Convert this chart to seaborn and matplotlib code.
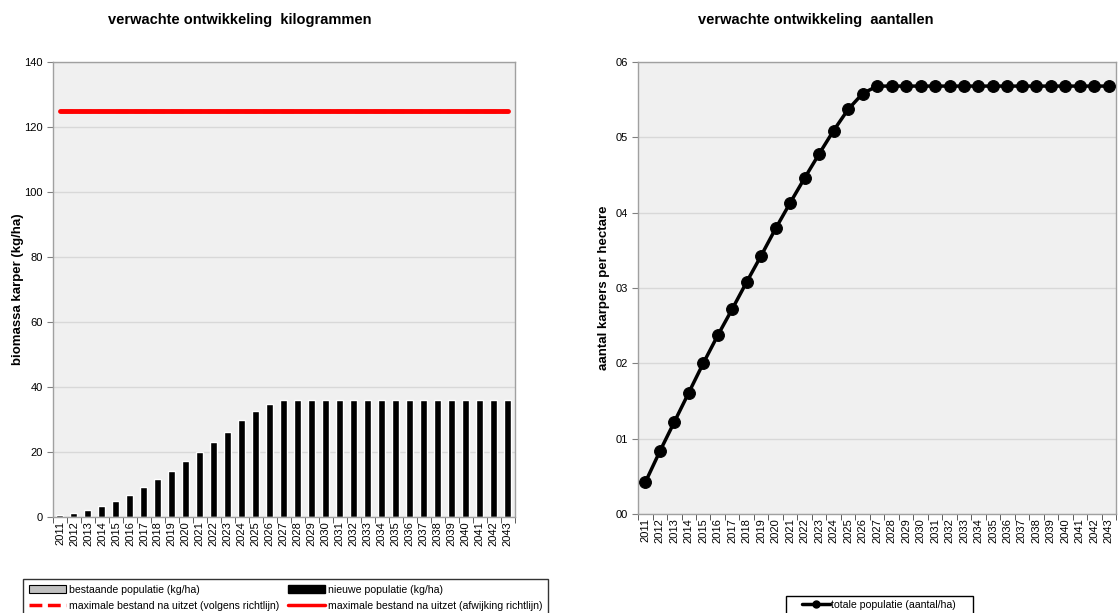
import numpy as np
import pandas as pd
import matplotlib
matplotlib.use("Agg")
import matplotlib.pyplot as plt
from matplotlib.patches import Patch, Rectangle
from matplotlib.lines import Line2D
import seaborn as sns

years = [str(y) for y in range(2011, 2044)]
bestaande = [0.0] * 33
nieuwe = [0.7, 1.3, 2.3, 3.4, 5.0, 6.9, 9.2, 11.6, 14.2, 17.2, 20.1, 23.1, 26.3,
          29.7, 32.6, 34.9] + [35.9] * 17
max_richtlijn = [125.0] * 33
max_afwijking = [125.0] * 33
aantal = [0.42, 0.83, 1.22, 1.61, 2.0, 2.37, 2.72, 3.08, 3.43, 3.79, 4.13, 4.46,
          4.78, 5.09, 5.37, 5.58] + [5.68] * 17
left_yticks = [0, 20, 40, 60, 80, 100, 120, 140]
right_yticks = [0, 1, 2, 3, 4, 5, 6]
right_yticklabels = ["00", "01", "02", "03", "04", "05", "06"]

sns.set_style("white")
plt.rcParams['font.family'] = ['Liberation Sans', 'DejaVu Sans']
plt.rcParams['text.color'] = 'black'
plt.rcParams['axes.labelcolor'] = 'black'
plt.rcParams['xtick.color'] = 'black'
plt.rcParams['ytick.color'] = 'black'

W, H = 1118, 613
fig = plt.figure(figsize=(W / 100, H / 100), dpi=100)
ax1 = fig.add_axes([0.0474, 0.1566, 0.413, 0.7423])
ax2 = fig.add_axes([0.5707, 0.1615, 0.4276, 0.7374])

df = pd.DataFrame({"jaar": years, "bestaande": bestaande, "nieuwe": nieuwe,
                   "richtlijn": max_richtlijn, "afwijking": max_afwijking,
                   "aantal": aantal})
df["pos"] = np.arange(len(years))

for ax in (ax1, ax2):
    ax.set_facecolor("#f0f0f0")
    for s in ax.spines.values():
        s.set_color("#a0a0a0")
        s.set_linewidth(1.0)
    ax.yaxis.grid(True, color="#d8d8d8", linewidth=1.0)
    ax.set_axisbelow(True)

# Left chart
sns.barplot(data=df, x="jaar", y="nieuwe", color="black", width=0.5,
            saturation=1, ax=ax1, zorder=2)
sns.lineplot(data=df, x="pos", y="richtlijn", color="red", linewidth=2.5,
             linestyle="--", ax=ax1, zorder=3)
sns.lineplot(data=df, x="pos", y="afwijking", color="red", linewidth=3.5,
             ax=ax1, zorder=4)
ax1.set_ylim(0, 140)
ax1.set_xlim(-0.5, len(years) - 0.5)
ax1.set_yticks(left_yticks)
ax1.set_xticks(range(len(years)))
ax1.set_xticklabels(years, rotation=90)
ax1.set_xlabel("")
ax1.set_ylabel("biomassa karper (kg/ha)", fontsize=9.5, fontweight="bold",
               labelpad=0)

# Right chart
sns.lineplot(data=df, x="pos", y="aantal", color="black", linewidth=2.5,
             marker="o", markersize=8.5, markeredgecolor="black", ax=ax2,
             zorder=3)
ax2.set_ylim(0, 6)
ax2.set_xlim(-0.5, len(years) - 0.5)
ax2.set_yticks(right_yticks)
ax2.set_yticklabels(right_yticklabels)
ax2.set_xticks(range(len(years)))
ax2.set_xticklabels(years, rotation=90)
ax2.set_xlabel("")
ax2.set_ylabel("aantal karpers per hectare", fontsize=9.5, fontweight="bold")

fig.text(240 / W, 1 - 20 / H, "verwachte ontwikkeling  kilogrammen",
         fontsize=10.5, fontweight="bold", ha="center", va="center")
fig.text(816 / W, 1 - 20 / H, "verwachte ontwikkeling  aantallen",
         fontsize=10.5, fontweight="bold", ha="center", va="center")

for ax in (ax1, ax2):
    ax.tick_params(axis="x", which="major", length=0, labelsize=8, pad=3)
    ax.tick_params(axis="y", which="major", length=4, color="#808080",
                   labelsize=8, direction="out", left=True)
    ax.set_xticks(np.arange(-0.5, len(years), 1.0), minor=True)
    ax.tick_params(axis="x", which="minor", length=4, color="#404040",
                   direction="out", bottom=True)

handles1 = [
    Patch(facecolor="#c0c0c0", edgecolor="black", linewidth=0.8,
          label="bestaande populatie (kg/ha)"),
    Line2D([0], [0], color="red", linestyle="--", linewidth=2.5,
           label="maximale bestand na uitzet (volgens richtlijn)"),
    Patch(facecolor="black", edgecolor="black",
          label="nieuwe populatie (kg/ha)"),
    Line2D([0], [0], color="red", linewidth=2.5,
           label="maximale bestand na uitzet (afwijking richtlijn)"),
]
leg1 = fig.legend(handles=handles1, ncol=2, loc="upper center",
                  bbox_to_anchor=(0.2554, 1 - 579 / H), fontsize=7.6,
                  frameon=True, fancybox=False, edgecolor="black",
                  handlelength=3.5, columnspacing=0.8, borderpad=0.55,
                  labelspacing=0.55, handletextpad=0.3, borderaxespad=0)
leg1.get_frame().set_linewidth(1.0)

handles2 = [Line2D([0], [0], color="black", linewidth=2.5, marker="o",
                   markersize=5, label="totale populatie (aantal/ha)")]
leg2 = fig.legend(handles=handles2, loc="upper center",
                  bbox_to_anchor=(879 / W, 1 - 596 / H), fontsize=7.6,
                  frameon=False, handlelength=2.7, borderpad=0.35,
                  handletextpad=0.1, borderaxespad=0)
fig.patches.append(Rectangle((786 / W, -0.02), 187 / W, 0.02 + 1 - 596 / H,
                             transform=fig.transFigure, fill=False,
                             edgecolor="black", linewidth=1.0))

fig.savefig("out.png", dpi=100)
